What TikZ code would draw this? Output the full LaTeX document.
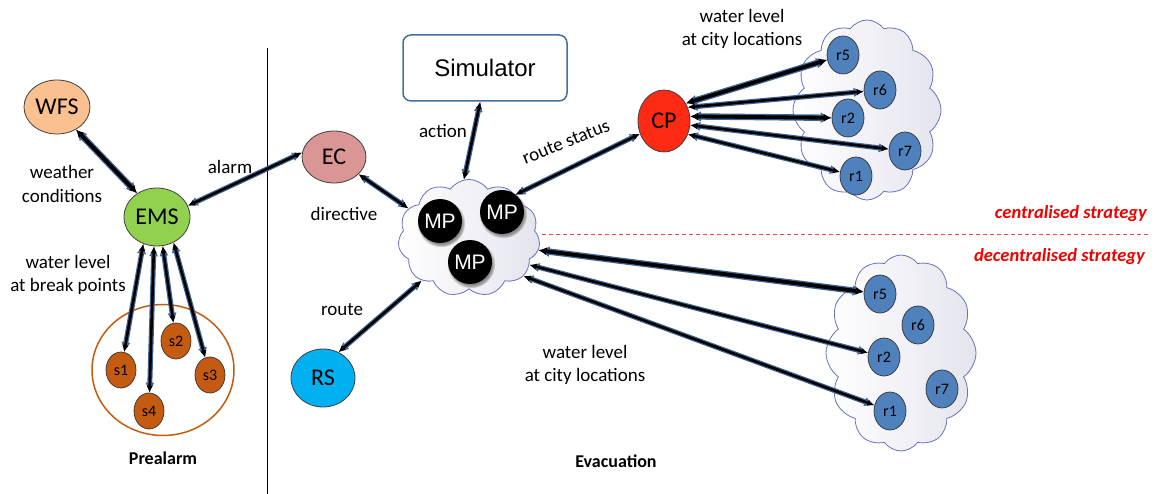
\documentclass[tikz,border=0pt]{standalone}
\usepackage{fontspec}
\setmainfont{Carlito}
\newfontfamily\arialf{Liberation Sans}
\usetikzlibrary{shapes.geometric,shapes.symbols,arrows.meta,shadows}
\definecolor{arrblue}{HTML}{3F6594}
\definecolor{wfsfill}{HTML}{FAC08F}
\definecolor{emsfill}{HTML}{92D050}
\definecolor{ecfill}{HTML}{D99694}
\definecolor{cpfill}{HTML}{FF2A14}
\definecolor{rsfill}{HTML}{00B0F0}
\definecolor{sfill}{HTML}{C55A11}
\definecolor{rfill}{HTML}{4F81BD}
\definecolor{simline}{HTML}{41719C}
\definecolor{cloudline}{HTML}{6673BD}
\definecolor{cloudgray}{HTML}{E4E4EE}
\definecolor{stratred}{HTML}{F00000}
\definecolor{dashred}{HTML}{FF4040}
\begin{document}
\begin{tikzpicture}[x=1pt,y=-1pt,
  lab/.style={font=\fontsize{19}{23.5}\selectfont, align=center, inner sep=0pt},
  titlelab/.style={font=\fontsize{18}{22}\selectfont\bfseries, inner sep=0pt},
  strat/.style={font=\fontsize{18.5}{22}\selectfont\bfseries\itshape, text=stratred, anchor=east, inner sep=0pt},
  agent/.style={ellipse, draw=black!75, line width=0.8pt, inner sep=0pt, font=\fontsize{24}{28}\selectfont},
  sens/.style={ellipse, draw=black!80, line width=0.7pt, fill=sfill, minimum width=30pt, minimum height=36pt, inner sep=0pt, font=\fontsize{16}{18}\selectfont},
  rnode/.style={ellipse, draw=black!80, line width=0.7pt, fill=rfill, minimum width=32pt, minimum height=38pt, inner sep=0pt, font=\fontsize{16}{18}\selectfont},
  mp/.style={circle, fill=black, minimum size=44pt, inner sep=0pt, text=white, font=\arialf\fontsize{21}{24}\selectfont, circular drop shadow={fill=black!45, shadow xshift=1pt, shadow yshift=-2pt}},
  cloudnode/.style={cloud, draw=cloudline, line width=0.8pt, left color=white, right color=cloudgray, inner sep=0pt},
  lnk/.style={draw=black, line width=2.6pt, {Latex[length=7pt,width=6.5pt]}-{Latex[length=7pt,width=6.5pt]},
    preaction={draw=arrblue, line width=5pt, {Latex[length=10pt,width=9.5pt]}-{Latex[length=10pt,width=9.5pt]}}},
  lnkb/.style={draw=black, line width=3.8pt, {Latex[length=8pt,width=8pt]}-{Latex[length=8pt,width=8pt]},
    preaction={draw=arrblue, line width=6.4pt, {Latex[length=11pt,width=11pt]}-{Latex[length=11pt,width=11pt]}}}
]
\useasboundingbox (0,0) rectangle (1156,494);

% clouds and ring
\node[cloudnode, cloud puffs=11, cloud puff arc=110, aspect=1.2, minimum width=142pt, minimum height=117pt] (mpc) at (469,238) {};
\node[cloudnode, cloud puffs=12, cloud puff arc=110, aspect=0.8, minimum width=148pt, minimum height=180pt] (tc) at (867,110) {};
\node[cloudnode, cloud puffs=12, cloud puff arc=110, aspect=0.8, minimum width=150pt, minimum height=196pt] (bc) at (901,353) {};
\node[ellipse, draw=sfill, line width=1.5pt, minimum width=142pt, minimum height=131pt] (pre) at (163,370) {};

% separator
\draw[line width=0.8pt] (267,48) -- (267,494);
\draw[dashred, line width=1pt, dash pattern=on 4pt off 3pt] (542,235) -- (1150,235);

% agents
\node[agent, fill=wfsfill, minimum width=66pt, minimum height=54pt] (WFS) at (57,107) {WFS};
\node[agent, fill=emsfill, minimum width=66pt, minimum height=58pt] (EMS) at (157,217) {EMS};
\node[agent, fill=ecfill, minimum width=64pt, minimum height=52pt] (EC) at (334,157) {EC};
\node[agent, fill=cpfill, minimum width=52pt, minimum height=62pt] (CP) at (664,121) {CP};
\node[agent, fill=rsfill, minimum width=64pt, minimum height=58pt] (RS) at (323,378) {RS};
\node[draw=simline, line width=1.5pt, rounded corners=8pt, fill=white, minimum width=164pt, minimum height=66pt, font=\arialf\fontsize{24}{28}\selectfont] (sim) at (485,68) {Simulator};

\node[mp] (mp1) at (440,221) {MP};
\node[mp] (mp2) at (502,212) {MP};
\node[mp] (mp3) at (470,262) {MP};

\node[sens] (s1) at (121,370) {s1};
\node[sens] (s2) at (176,341) {s2};
\node[sens] (s3) at (210,375) {s3};
\node[sens] (s4) at (149,411) {s4};

\node[rnode] (tr5) at (843,55) {r5};
\node[rnode] (tr6) at (880,90) {r6};
\node[rnode] (tr2) at (848,118) {r2};
\node[rnode] (tr7) at (905,151) {r7};
\node[rnode] (tr1) at (856,176) {r1};

\node[rnode] (br5) at (880,294) {r5};
\node[rnode] (br6) at (918,325) {r6};
\node[rnode] (br2) at (884,357) {r2};
\node[rnode] (br7) at (942,389) {r7};
\node[rnode] (br1) at (890,411) {r1};

% connectors
\draw[lnkb] (WFS.-50) -- (EMS.130);
\draw[lnk] (EC.172) -- (EMS.20);
\draw[lnk] (EMS.-117) -- (s1);
\draw[lnk] (EMS.-96) -- (s4);
\draw[lnk] (EMS.-79) -- (s2);
\draw[lnk] (EMS.-57) -- (s3);
\draw[lnk] (EC.-35) -- (mpc.154);
\draw[lnk] (sim.-98) -- (mpc.95);
\draw[lnk] (CP.-152) -- (mpc.43);
\draw[lnk] (RS.59) -- (mpc.-138);
\draw[lnkb] (CP.39) -- (tr5);
\draw[lnk] (CP.30) -- (tr6);
\draw[lnkb] (CP.10) -- (tr2);
\draw[lnk] (CP.-9) -- (tr7);
\draw[lnk] (CP.-29) -- (tr1);
\draw[lnkb] (mpc.-10) -- (br5);
\draw[lnk] (mpc.-24) -- (br2);
\draw[lnk] (mpc.-35) -- (br1);

% labels
\node[lab] (lwc) at (62,184) {weather\\conditions};
\node[lab] (lwb) at (68,275) {water level\\at break points};
\node[lab] (lal) at (230,167) {alarm};
\node[lab] (ldi) at (344,214) {directive};
\node[lab] (lac) at (443,131) {action};
\node[lab] (lro) at (342,310) {route};
\node[lab, rotate=22] (lrs) at (566,142) {route status};
\node[lab] (lwt) at (742,29) {water level\\at city locations};
\node[lab] (lwd) at (585,365) {water level\\at city locations};
\node[titlelab] (lpre) at (163,458) {Prealarm};
\node[titlelab] (levac) at (616,461) {Evacuation};
\node[strat] (lcs) at (1147,214) {centralised strategy};
\node[strat] (lds) at (1145,257) {decentralised strategy};
\end{tikzpicture}
\end{document}
